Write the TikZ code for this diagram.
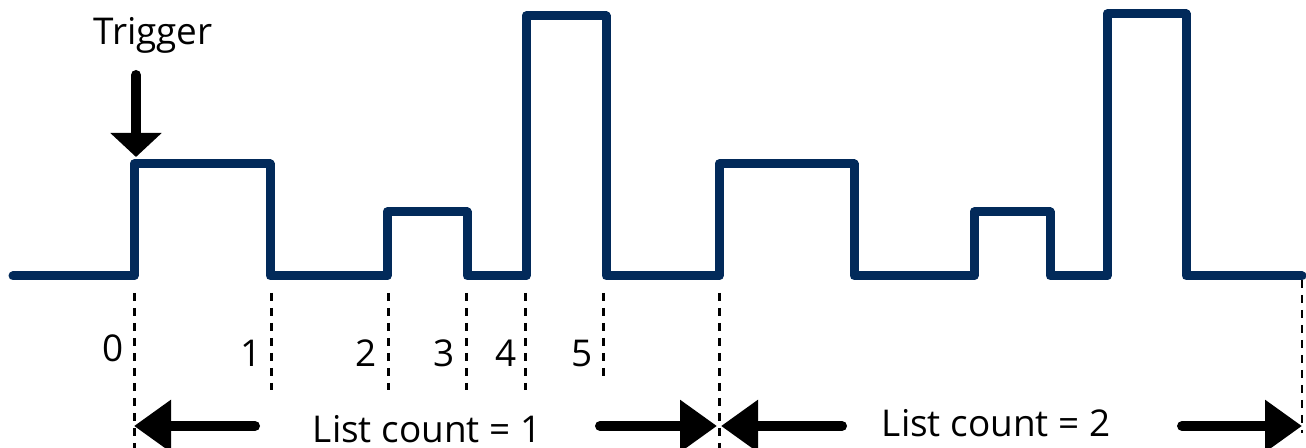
\documentclass[tikz,border=0pt]{standalone}
\usepackage{fontspec}
\setmainfont{Open Sans}
\usepackage{tikz}
\usetikzlibrary{positioning, arrows.meta}
\definecolor{wavenavy}{HTML}{022A5A}

\tikzset{
  wave/.style={wavenavy, line width=0.9mm, line join=round, line cap=round},
  guide/.style={black, line width=0.3mm, dash pattern=on 0.8mm off 0.7mm},
  fatarrow/.style={-{Triangle[length=3.7mm, width=5mm]}, line width=1mm, line cap=round},
  ticklab/.style={inner sep=0pt, anchor=base east},
}

\begin{document}
\begin{tikzpicture}[x=1cm, y=1cm, font=\fontsize{10.5}{12}\selectfont]
\useasboundingbox (0,0) rectangle (13.06,4.48);
% pulse train: base 1.72, low pulse 2.36, mid pulse 2.84, tall pulse 4.32
\draw[wave] (0.13,1.72) -| (1.34,2.84) -| (2.70,1.72) -| (3.87,2.36) -| (4.67,1.72)
  -| (5.26,4.32) -| (6.06,1.72) -| (7.19,2.84) -| (8.54,1.72) -| (9.74,2.36)
  -| (10.50,1.72) -| (11.07,4.34) -| (11.86,1.72) -- (13.02,1.72);
\foreach \x/\lo in {1.34/0, 2.71/0.58, 3.88/0.58, 4.66/0.58, 5.25/0.58, 6.03/0.71, 7.19/0} {
  \draw[guide] (\x,1.55) -- (\x,\lo);
}
\draw[guide, line width=0.2mm] (13.02,1.68) -- (13.02,0.15);
\node[ticklab] (t0) at (1.24,0.86) {0};
\foreach \i/\x in {1/2.62, 2/3.77, 3/4.55, 4/5.17, 5/5.93} {
  \node[ticklab] (t\i) at (\x,0.81) {\i};
}
\node[anchor=base] (trig) at (1.53,4.03) {Trigger};
\coordinate (trigtail) at (1.36,3.73);
\coordinate (trigtip) at (1.36,2.91);
\draw[fatarrow, -{Triangle[length=2.4mm, width=5mm]}] (trigtail) -- (trigtip);
\node[anchor=base] (cnt1) at (4.27,0.05) {List count = 1};
\node[anchor=base] (cnt2) at (9.96,0.11) {List count = 2};
\coordinate (c1tip) at (1.34,0.22);
\coordinate (c1tail) at (2.55,0.22);
\coordinate (c1endtail) at (6.00,0.22);
\coordinate (c1end) at (7.17,0.22);
\coordinate (c2tip) at (7.21,0.22);
\coordinate (c2tail) at (8.42,0.22);
\coordinate (c2endtail) at (11.82,0.22);
\coordinate (c2end) at (13.02,0.22);
\draw[fatarrow] (c1tail) -- (c1tip);
\draw[fatarrow] (c1endtail) -- (c1end);
\draw[fatarrow] (c2tail) -- (c2tip);
\draw[fatarrow] (c2endtail) -- (c2end);
\end{tikzpicture}
\end{document}
